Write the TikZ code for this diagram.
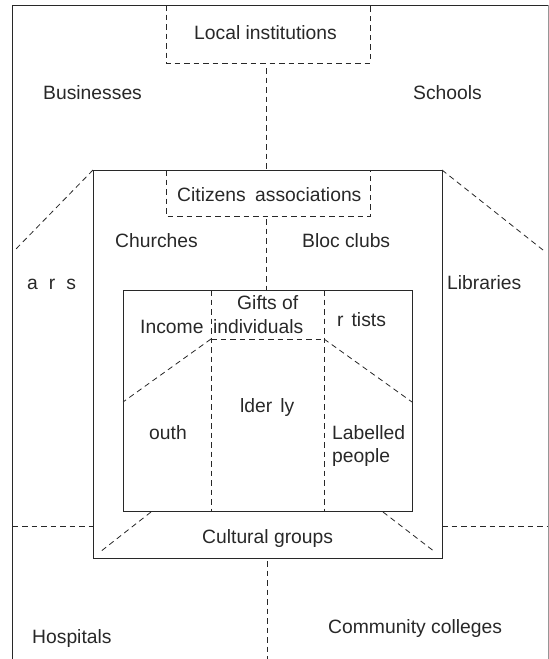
\documentclass[tikz,border=0pt]{standalone}
\usepackage{fontspec}
\setmainfont{Liberation Sans}
\definecolor{ink}{RGB}{40,40,40}
\definecolor{edge}{RGB}{150,150,150}
\begin{document}
\begin{tikzpicture}[x=1pt,y=-1pt,
  solidline/.style={draw=ink,line width=0.9pt},
  dashline/.style={draw=ink,line width=0.8pt,dash pattern=on 5.5pt off 4pt},
  lbl/.style={anchor=base west,inner sep=0pt,text=ink,font=\fontsize{19.3}{24}\selectfont},
  lblc/.style={lbl,anchor=base,align=center}]
\useasboundingbox (0,0) rectangle (549,659);
% coordinates
\coordinate (oBL) at (12.5,659); \coordinate (oTL) at (12.5,5);
\coordinate (oTR) at (548,5); \coordinate (oBR) at (548,659);
\coordinate (mTL) at (93,170); \coordinate (mBR) at (442,558);
\coordinate (mTR) at (442,170);
\coordinate (iTL) at (123,290); \coordinate (iBR) at (412,511);
% outer frame
\draw[solidline] (oBL) -- (oTL) -- (oTR);
\draw[draw=edge,line width=0.6pt] (oTR) -- (oBR);
% middle and inner boxes
\draw[solidline] (mTL) rectangle (mBR);
\draw[solidline] (iTL) rectangle (iBR);
% local institutions box
\coordinate (l1) at (166,5); \coordinate (l2) at (166,63);
\coordinate (l3) at (370,63); \coordinate (l4) at (370,5);
\draw[dashline] (l1) -- (l2) -- (l3) -- (l4);
\coordinate (v1a) at (266,68); \coordinate (v1b) at (266,170);
\draw[dashline] (v1a) -- (v1b);
% citizens associations box
\coordinate (c1) at (166,170); \coordinate (c2) at (166,216);
\coordinate (c3) at (370,216); \coordinate (c4) at (370,170);
\draw[dashline] (c1) -- (c2) -- (c3) -- (c4);
\coordinate (v2a) at (266,219); \coordinate (v2b) at (266,290);
\draw[dashline] (v2a) -- (v2b);
% inner divisions
\coordinate (d1a) at (211,290); \coordinate (d1b) at (211,511);
\coordinate (d2a) at (324,290); \coordinate (d2b) at (324,511);
\draw[dashline] (d1a) -- (d1b);
\draw[dashline] (d2a) -- (d2b);
\coordinate (g1) at (211,339); \coordinate (g2) at (324,339);
\draw[dashline] (g1) -- (g2);
\coordinate (s1) at (123,402); \coordinate (s2) at (412,402);
\draw[dashline] (g1) -- (s1);
\draw[dashline] (g2) -- (s2);
% bottom diagonals
\coordinate (b1a) at (151,512); \coordinate (b1b) at (100,552);
\coordinate (b2a) at (383,512); \coordinate (b2b) at (435,552);
\draw[dashline] (b1a) -- (b1b);
\draw[dashline] (b2a) -- (b2b);
% horizontal dashes
\coordinate (h1a) at (12.5,526); \coordinate (h1b) at (93,526);
\coordinate (h2a) at (442,526); \coordinate (h2b) at (548,526);
\draw[dashline] (h1a) -- (h1b);
\draw[dashline] (h2a) -- (h2b);
% bottom vertical
\coordinate (v3a) at (267,561); \coordinate (v3b) at (267,659);
\draw[dashline] (v3a) -- (v3b);
% outer diagonals
\coordinate (od1) at (15,250); \coordinate (od2) at (543,250);
\draw[dashline] (mTL) -- (od1);
\draw[dashline] (mTR) -- (od2);
% labels
\node[lbl] (local) at (194,39) {Local institutions};
\node[lbl] (bus) at (43,99) {Businesses};
\node[lbl] (sch) at (413,99) {Schools};
\node[lbl] (cit) at (177,201) {Citizens\hspace{4pt} associations};
\node[lbl] (chu) at (115,247) {Churches};
\node[lbl] (blo) at (302,247) {Bloc clubs};
\node[lbl] (ars) at (27,289) {a\hspace{11pt}r\hspace{11pt}s};
\node[lbl] (lib) at (447,289) {Libraries};
\node[lbl] (gif) at (237,309) {Gifts of};
\node[lbl] (ind) at (213,333) {individuals};
\node[lbl] (inc) at (140,333) {Income};
\node[lbl] (art) at (337,326) {r\hspace{8pt}tists};
\node[lbl] (eld) at (240,412) {lder\hspace{8pt}ly};
\node[lbl] (you) at (149,439) {outh};
\node[lbl] (lab) at (332,439) {Labelled};
\node[lbl] (peo) at (332,462) {people};
\node[lbl] (cul) at (202,543) {Cultural groups};
\node[lbl] (hos) at (32,643) {Hospitals};
\node[lbl] (com) at (328,633) {Community colleges};
\end{tikzpicture}
\end{document}
